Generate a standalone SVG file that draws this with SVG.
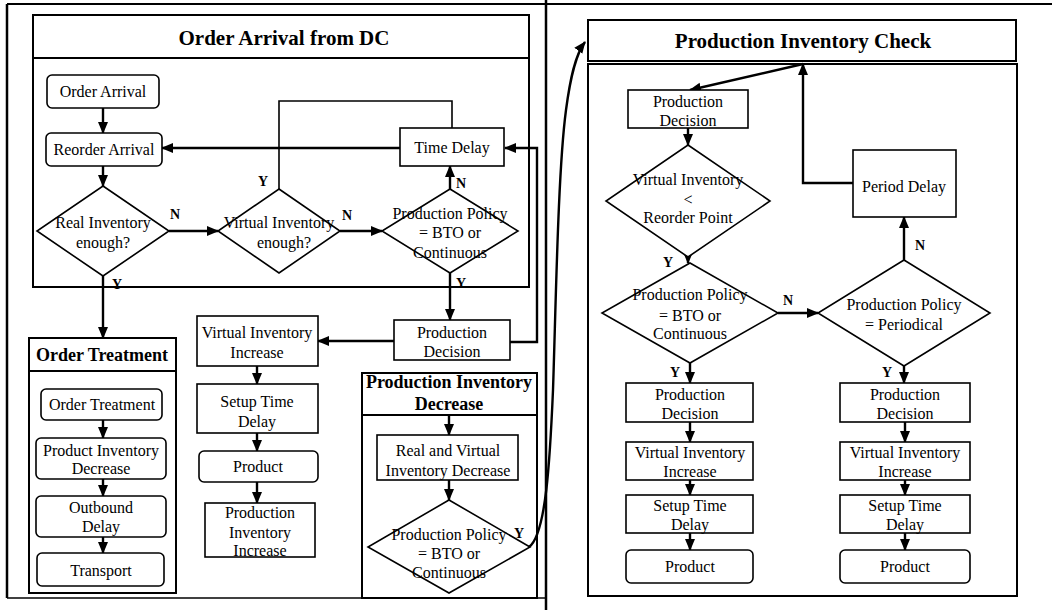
<svg xmlns="http://www.w3.org/2000/svg" width="1060" height="610" viewBox="0 0 1060 610">
<style>
.n{fill:#fff;stroke:#000;stroke-width:1.6}
.g{fill:none;stroke:#000;stroke-width:2}
.t{font-family:"Liberation Serif","Times New Roman",serif;font-size:16px;text-anchor:middle;fill:#000}
.h{font-family:"Liberation Serif","Times New Roman",serif;font-weight:bold;text-anchor:middle;fill:#000}
.l{font-family:"Liberation Serif","Times New Roman",serif;font-weight:bold;font-size:14px;fill:#000}
.c{fill:none;stroke:#000;stroke-width:2.4}
.c2{fill:none;stroke:#000;stroke-width:1.6}
.a{marker-end:url(#ah)}
</style>
<defs>
<marker id="ah" markerUnits="userSpaceOnUse" markerWidth="12" markerHeight="12" viewBox="0 0 12 12" refX="11" refY="6" orient="auto">
<path d="M0,1 L12,6 L0,11 Z" fill="#000"/>
</marker>
</defs>
<rect width="1060" height="610" fill="#fff"/>
<g id="frame" fill="none" stroke="#000">
<line x1="7" y1="4" x2="1052" y2="4" stroke-width="2"/>
<line x1="7" y1="4" x2="7" y2="598" stroke-width="2.5"/>
<line x1="7" y1="598" x2="546" y2="598" stroke-width="1.5"/>
<line x1="546" y1="0" x2="546" y2="610" stroke-width="2.5"/>
</g>
<g id="grp-order-arrival">
<rect class="g" x="33" y="15" width="496" height="272"/>
<line class="g" x1="33" y1="58" x2="529" y2="58"/>
<text class="h" x="284" y="45" font-size="21">Order Arrival from DC</text>
</g>
<g id="grp-order-treatment">
<rect class="g" x="29" y="338" width="147" height="255"/>
<line class="g" x1="29" y1="371" x2="176" y2="371"/>
<text class="h" x="102" y="361" font-size="18">Order Treatment</text>
</g>
<g id="grp-pid">
<rect class="g" x="362" y="373" width="175" height="225"/>
<line class="g" x1="362" y1="415" x2="537" y2="415"/>
<text class="h" x="449" y="388" font-size="18">Production Inventory</text>
<text class="h" x="449" y="410" font-size="18">Decrease</text>
</g>
<g id="grp-pic">
<rect class="g" x="588" y="20" width="428" height="41"/>
<rect class="g" x="588" y="64" width="429" height="532"/>
<text class="h" x="803" y="48" font-size="21">Production Inventory Check</text>
</g>
<g id="connectors">
<line class="c a" x1="103" y1="108" x2="103" y2="133"/>
<line class="c a" x1="103" y1="166" x2="103" y2="186"/>
<line class="c a" x1="169" y1="231" x2="218" y2="231"/>
<line class="c a" x1="340" y1="231" x2="382" y2="231"/>
<line class="c a" x1="103" y1="276" x2="103" y2="338"/>
<polyline class="c2" points="279,189 279,101 452,101 452,128"/>
<line class="c a" x1="400" y1="148" x2="162" y2="148"/>
<line class="c a" x1="450" y1="189" x2="450" y2="166"/>
<line class="c a" x1="450" y1="273" x2="450" y2="320"/>
<line class="c a" x1="394" y1="341" x2="318" y2="341"/>
<polyline class="c a" points="510,342 537,342 537,148 505,148"/>
<line class="c a" x1="257" y1="366" x2="257" y2="384"/>
<line class="c a" x1="257" y1="433" x2="257" y2="451"/>
<line class="c a" x1="257" y1="482" x2="257" y2="503"/>
<line class="c a" x1="103" y1="420" x2="103" y2="438"/>
<line class="c a" x1="103" y1="479" x2="103" y2="496"/>
<line class="c a" x1="103" y1="537" x2="103" y2="553"/>
<line class="c a" x1="449" y1="415" x2="449" y2="435"/>
<line class="c a" x1="449" y1="480" x2="449" y2="500"/>
<path class="c a" d="M529,547 C546,535 550,460 553,390 C556,300 558,170 566,110 C570,80 575,55 585,42"/>
<line class="c a" x1="803" y1="64" x2="690" y2="90"/>
<polyline class="c a" points="853,183 803,183 803,64"/>
<line class="c a" x1="688" y1="128" x2="688" y2="145"/>
<line class="c a" x1="688" y1="257" x2="688" y2="263"/>
<line class="c a" x1="778" y1="313" x2="818" y2="313"/>
<line class="c a" x1="904" y1="260" x2="904" y2="217"/>
<line class="c a" x1="690" y1="363" x2="690" y2="383"/>
<line class="c a" x1="904" y1="366" x2="904" y2="383"/>
<line class="c a" x1="690" y1="422" x2="690" y2="442"/>
<line class="c a" x1="690" y1="480" x2="690" y2="495"/>
<line class="c a" x1="690" y1="533" x2="690" y2="550"/>
<line class="c a" x1="905" y1="422" x2="905" y2="442"/>
<line class="c a" x1="905" y1="480" x2="905" y2="495"/>
<line class="c a" x1="905" y1="533" x2="905" y2="550"/>
<text class="l" x="170" y="219">N</text>
<text class="l" x="342" y="220">N</text>
<text class="l" x="112" y="289">Y</text>
<text class="l" x="258" y="186">Y</text>
<text class="l" x="456" y="188">N</text>
<text class="l" x="456" y="288">Y</text>
<text class="l" x="514" y="538">Y</text>
<text class="l" x="663" y="267">Y</text>
<text class="l" x="783" y="305">N</text>
<text class="l" x="915" y="250">N</text>
<text class="l" x="670" y="377">Y</text>
<text class="l" x="882" y="377">Y</text>
</g>
<g id="order-arrival"><rect class="n" x="47" y="75" width="112" height="33" rx="5"/><text class="t" x="103" y="97">Order Arrival</text></g>
<g id="reorder-arrival"><rect class="n" x="46" y="133" width="116" height="33" rx="5"/><text class="t" x="104" y="155">Reorder Arrival</text></g>
<g id="d-real-inv"><polygon class="n" points="103,186 169,231 103,276 37,231"/><text class="t" x="103" y="228">Real Inventory</text><text class="t" x="103" y="248">enough?</text></g>
<g id="d-virtual-inv"><polygon class="n" points="279,189 340,231 279,273 218,231"/><text class="t" x="279" y="228">Virtual Inventory</text><text class="t" x="284" y="248">enough?</text></g>
<g id="d-policy-1"><polygon class="n" points="450,189 518,231 450,273 382,231"/><text class="t" x="450" y="219">Production Policy</text><text class="t" x="450" y="238">= BTO or</text><text class="t" x="450" y="258">Continuous</text></g>
<g id="time-delay"><rect class="n" x="400" y="128" width="104" height="38"/><text class="t" x="452" y="153">Time Delay</text></g>
<g id="prod-decision-1"><rect class="n" x="394" y="320" width="116" height="40"/><text class="t" x="452" y="338">Production</text><text class="t" x="452" y="357">Decision</text></g>
<g id="vii-1"><rect class="n" x="197" y="316" width="121" height="50"/><text class="t" x="257" y="338">Virtual Inventory</text><text class="t" x="257" y="358">Increase</text></g>
<g id="std-1"><rect class="n" x="197" y="384" width="121" height="49"/><text class="t" x="257" y="407">Setup Time</text><text class="t" x="257" y="427">Delay</text></g>
<g id="product-1"><rect class="n" x="199" y="451" width="119" height="31" rx="5"/><text class="t" x="258" y="472">Product</text></g>
<g id="pii"><rect class="n" x="205" y="503" width="110" height="54"/><text class="t" x="260" y="518">Production</text><text class="t" x="260" y="538">Inventory</text><text class="t" x="260" y="556">Increase</text></g>
<g id="order-treatment"><rect class="n" x="41" y="389" width="121" height="31" rx="5"/><text class="t" x="102" y="410">Order Treatment</text></g>
<g id="pid-box"><rect class="n" x="36" y="438" width="130" height="41" rx="5"/><text class="t" x="101" y="456">Product Inventory</text><text class="t" x="101" y="474">Decrease</text></g>
<g id="outbound"><rect class="n" x="36" y="496" width="130" height="41" rx="5"/><text class="t" x="101" y="513">Outbound</text><text class="t" x="101" y="532">Delay</text></g>
<g id="transport"><rect class="n" x="37" y="553" width="127" height="33" rx="5"/><text class="t" x="101" y="576">Transport</text></g>
<g id="rvid"><rect class="n" x="377" y="435" width="141" height="45"/><text class="t" x="448" y="456">Real and Virtual</text><text class="t" x="448" y="476">Inventory Decrease</text></g>
<g id="d-policy-2"><polygon class="n" points="449,500 530,547 449,593 368,547"/><text class="t" x="449" y="540">Production Policy</text><text class="t" x="449" y="559">= BTO or</text><text class="t" x="449" y="578">Continuous</text></g>
<g id="prod-decision-2"><rect class="n" x="628" y="90" width="120" height="38"/><text class="t" x="688" y="107">Production</text><text class="t" x="688" y="126">Decision</text></g>
<g id="d-reorder"><polygon class="n" points="688,145 770,201 688,257 606,201"/><text class="t" x="688" y="185">Virtual Inventory</text><text class="t" x="688" y="205">&lt;</text><text class="t" x="688" y="223">Reorder Point</text></g>
<g id="d-policy-3"><polygon class="n" points="690,263 778,313 690,363 602,313"/><text class="t" x="690" y="300">Production Policy</text><text class="t" x="690" y="321">= BTO or</text><text class="t" x="690" y="339">Continuous</text></g>
<g id="d-periodical"><polygon class="n" points="904,260 990,313 904,366 818,313"/><text class="t" x="904" y="310">Production Policy</text><text class="t" x="904" y="330">= Periodical</text></g>
<g id="period-delay"><rect class="n" x="853" y="150" width="103" height="67"/><text class="t" x="904" y="192">Period Delay</text></g>
<g id="pd-3"><rect class="n" x="626" y="383" width="127" height="39"/><text class="t" x="690" y="400">Production</text><text class="t" x="690" y="419">Decision</text></g>
<g id="vii-3"><rect class="n" x="626" y="442" width="127" height="38"/><text class="t" x="690" y="458">Virtual Inventory</text><text class="t" x="690" y="477">Increase</text></g>
<g id="std-3"><rect class="n" x="626" y="495" width="127" height="38"/><text class="t" x="690" y="511">Setup Time</text><text class="t" x="690" y="530">Delay</text></g>
<g id="product-3"><rect class="n" x="626" y="550" width="127" height="33" rx="5"/><text class="t" x="690" y="572">Product</text></g>
<g id="pd-4"><rect class="n" x="840" y="383" width="130" height="39"/><text class="t" x="905" y="400">Production</text><text class="t" x="905" y="419">Decision</text></g>
<g id="vii-4"><rect class="n" x="840" y="442" width="130" height="38"/><text class="t" x="905" y="458">Virtual Inventory</text><text class="t" x="905" y="477">Increase</text></g>
<g id="std-4"><rect class="n" x="840" y="495" width="130" height="38"/><text class="t" x="905" y="511">Setup Time</text><text class="t" x="905" y="530">Delay</text></g>
<g id="product-4"><rect class="n" x="840" y="550" width="130" height="33" rx="5"/><text class="t" x="905" y="572">Product</text></g>
</svg>
